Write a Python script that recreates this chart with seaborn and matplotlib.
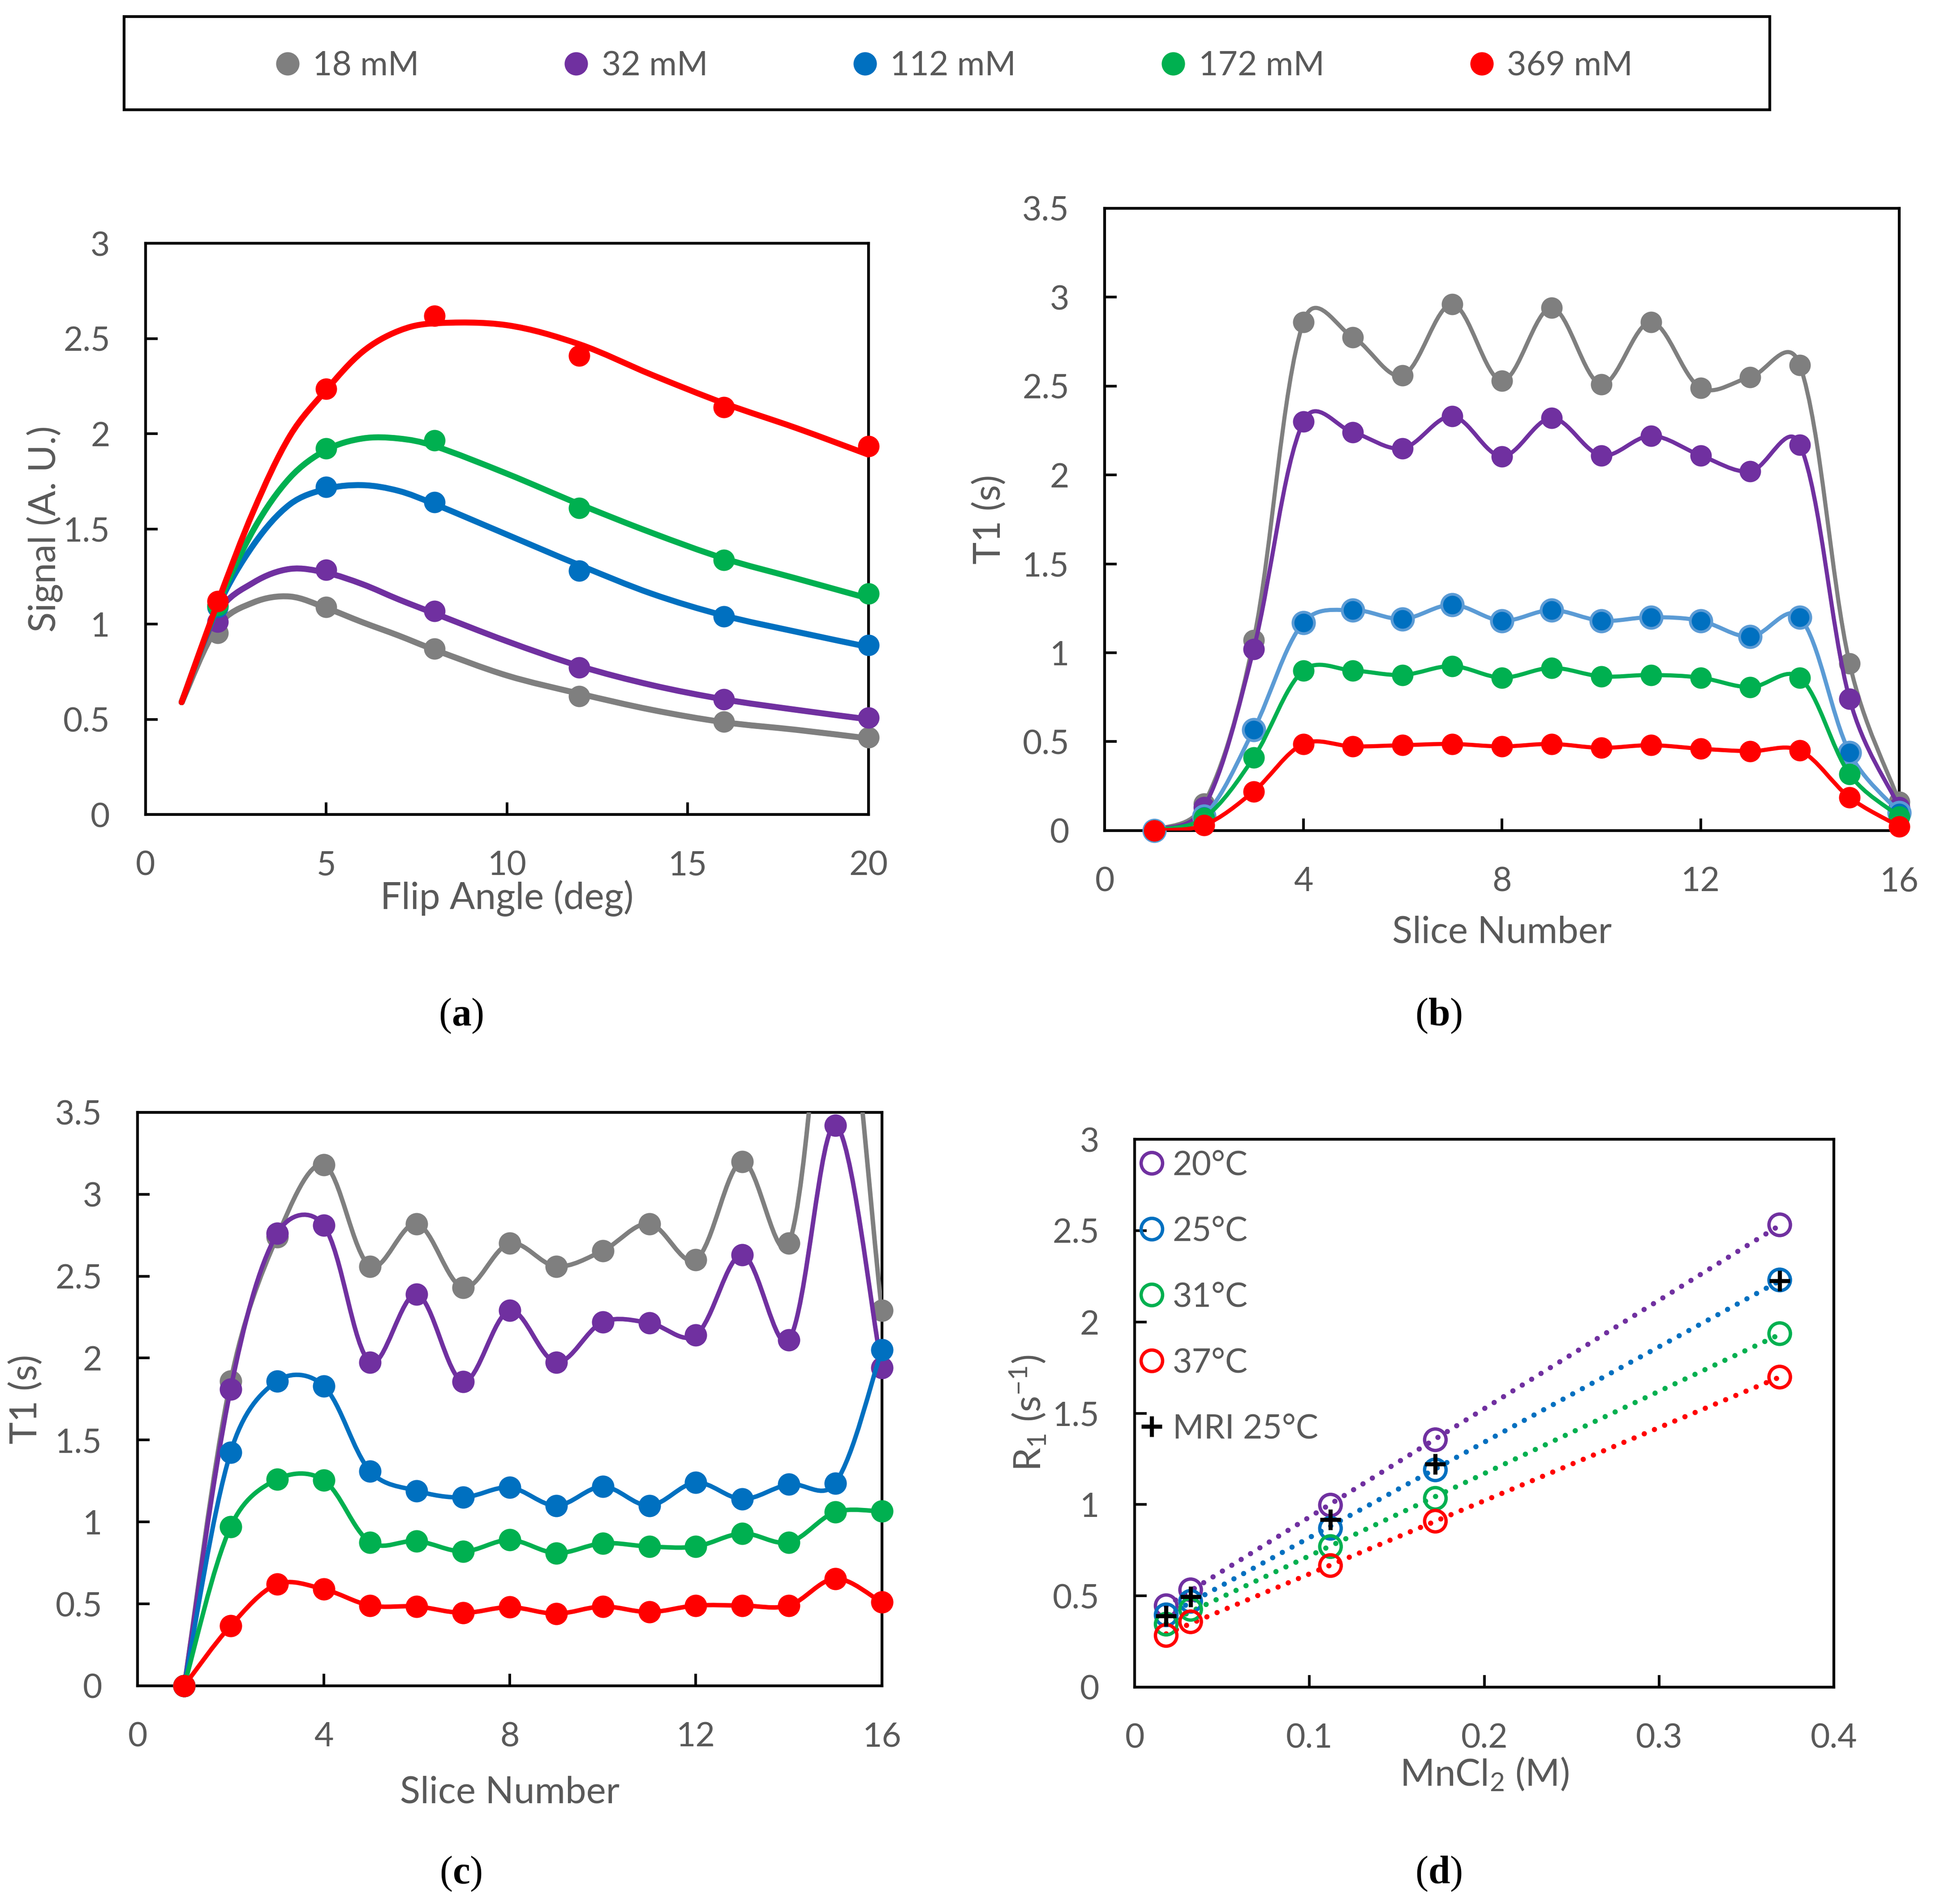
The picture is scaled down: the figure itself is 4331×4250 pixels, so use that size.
import numpy as np
import matplotlib
matplotlib.use('Agg')
import matplotlib.pyplot as plt
import seaborn as sns
from matplotlib.path import Path
from matplotlib.patches import PathPatch, Rectangle
from matplotlib.lines import Line2D
from matplotlib.ticker import FuncFormatter

# ---- shared series info
conc_labels = ['18 mM', '32 mM', '112 mM', '172 mM', '369 mM']
conc_colors = ['#7F7F7F', '#7030A0', '#0070C0', '#00B050', '#FF0000']

# ---- (a) signal vs flip angle: measured points and fitted curves
flip_angle = [2, 5, 8, 12, 16, 20]
sig_18 = [0.954, 1.089, 0.872, 0.622, 0.487, 0.406]
sig_32 = [1.013, 1.286, 1.069, 0.773, 0.605, 0.508]
sig_112 = [1.09, 1.72, 1.64, 1.28, 1.04, 0.89]
sig_172 = [1.10, 1.923, 1.964, 1.61, 1.337, 1.16]
sig_369 = [1.12, 2.235, 2.62, 2.41, 2.14, 1.934]

fit_angle = [1, 2, 3, 4, 5, 6, 7, 8, 10, 12, 14, 16, 18, 20]
fit_18 = [0.59, 0.99, 1.115, 1.145, 1.085, 1.01, 0.94, 0.865, 0.73, 0.635, 0.55, 0.485, 0.445, 0.40]
fit_32 = [0.59, 1.06, 1.22, 1.29, 1.27, 1.21, 1.13, 1.056, 0.91, 0.78, 0.68, 0.605, 0.55, 0.50]
fit_112 = [0.59, 1.09, 1.42, 1.63, 1.71, 1.73, 1.70, 1.63, 1.47, 1.31, 1.16, 1.045, 0.96, 0.88]
fit_172 = [0.59, 1.10, 1.50, 1.77, 1.915, 1.975, 1.975, 1.935, 1.79, 1.63, 1.48, 1.345, 1.24, 1.135]
fit_369 = [0.59, 1.115, 1.60, 1.99, 2.23, 2.43, 2.54, 2.58, 2.57, 2.47, 2.31, 2.16, 2.03, 1.89]

# ---- (b) and (c) T1 per slice
slices = list(range(1, 17))
t1b_18 = [0.0, 0.15, 1.07, 2.86, 2.775, 2.56, 2.96, 2.53, 2.94, 2.51, 2.86, 2.49, 2.55, 2.617, 0.94, 0.16]
t1b_32 = [0.0, 0.13, 1.02, 2.30, 2.24, 2.15, 2.33, 2.105, 2.32, 2.11, 2.22, 2.11, 2.02, 2.17, 0.74, 0.13]
t1b_112 = [0.0, 0.08, 0.566, 1.17, 1.24, 1.19, 1.27, 1.18, 1.24, 1.18, 1.20, 1.18, 1.09, 1.20, 0.438, 0.10]
t1b_172 = [0.0, 0.07, 0.41, 0.90, 0.90, 0.875, 0.925, 0.86, 0.915, 0.867, 0.875, 0.86, 0.806, 0.86, 0.317, 0.078]
t1b_369 = [0.0, 0.03, 0.22, 0.487, 0.473, 0.48, 0.487, 0.473, 0.487, 0.465, 0.48, 0.46, 0.446, 0.45, 0.186, 0.023]

t1c_18 = [0.0, 1.86, 2.74, 3.18, 2.56, 2.82, 2.43, 2.70, 2.56, 2.655, 2.82, 2.60, 3.20, 2.70, 4.6, 2.29]
t1c_32 = [0.0, 1.81, 2.76, 2.81, 1.975, 2.39, 1.857, 2.29, 1.975, 2.22, 2.215, 2.14, 2.63, 2.11, 3.42, 1.94]
t1c_112 = [0.0, 1.425, 1.86, 1.83, 1.31, 1.19, 1.15, 1.21, 1.10, 1.216, 1.10, 1.24, 1.14, 1.23, 1.237, 2.05]
t1c_172 = [0.0, 0.97, 1.26, 1.255, 0.876, 0.884, 0.82, 0.89, 0.81, 0.87, 0.85, 0.85, 0.93, 0.876, 1.06, 1.065]
t1c_369 = [0.0, 0.366, 0.62, 0.59, 0.49, 0.484, 0.445, 0.48, 0.44, 0.484, 0.45, 0.49, 0.49, 0.49, 0.654, 0.51]

# ---- (d) relaxation rate vs MnCl2
mncl2 = [0.018, 0.032, 0.112, 0.172, 0.369]
r1_20 = [0.446, 0.533, 0.997, 1.355, 2.532]
r1_25 = [0.396, 0.47, 0.87, 1.19, 2.23]
r1_31 = [0.345, 0.426, 0.77, 1.034, 1.936]
r1_37 = [0.283, 0.358, 0.666, 0.909, 1.698]
r1_mri = [0.39, 0.496, 0.917, 1.222, 2.226]
temp_labels = ['20°C', '25°C', '31°C', '37°C']
temp_colors = ['#7030A0', '#0070C0', '#00B050', '#FF0000']

TXT = '#595959'

sns.set_theme(style='white')
plt.rcParams['font.family'] = ['Lato', 'DejaVu Sans']
plt.rcParams['mathtext.fontset'] = 'custom'
plt.rcParams['mathtext.rm'] = 'Lato'
plt.rcParams['mathtext.it'] = 'Lato:italic'
plt.rcParams['mathtext.bf'] = 'Liberation Serif:bold'


def smooth_path(ax, x, y, mix=0.6):
    # excel-like smoothed line: bezier tangents part uniform, part weighted
    # by on-screen segment lengths
    p = np.column_stack([x, y]).astype(float)
    scr = ax.transData.transform(p)
    n = len(p)
    d = np.r_[0.0, np.hypot(*np.diff(scr, axis=0).T), 0.0]
    verts, codes = [p[0]], [Path.MOVETO]
    for i in range(n - 1):
        p0, p1, p2, p3 = p[max(i - 1, 0)], p[i], p[i + 1], p[min(i + 2, n - 1)]
        d01, d12, d23 = d[i], d[i + 1], d[i + 2]
        w1 = mix / 6.0 + (1 - mix) * d12 / (d01 + d12) / 3.0
        w2 = mix / 6.0 + (1 - mix) * d12 / (d12 + d23) / 3.0
        verts += [p1 + (p2 - p0) * w1, p2 - (p3 - p1) * w2, p2]
        codes += [Path.CURVE4] * 3
    return Path(verts, codes)


def add_smooth(ax, x, y, color, lw, z):
    ax.add_patch(PathPatch(smooth_path(ax, x, y), fill=False, edgecolor=color, lw=lw,
                           zorder=z, capstyle='round', joinstyle='round'))


def add_points(ax, x, y, color, size, z, edge=None, ew=0.0):
    sns.scatterplot(x=x, y=y, ax=ax, color=color, s=size ** 2, marker='o',
                    edgecolor=edge if edge else color, linewidth=ew,
                    zorder=z, legend=False)
    ax.collections[-1].set_clip_path(
        Rectangle((-0.06, -0.06), 1.12, 1.1, transform=ax.transAxes))


def style_axes(ax, xlim, xticks, ylim, yticks, xlabel, ylabel, xl_pos, yl_pos):
    ax.set_xlim(*xlim)
    ax.set_ylim(*ylim)
    ax.set_xticks(xticks)
    ax.set_yticks(yticks)
    fmt = FuncFormatter(lambda v, p: f'{v:g}')
    ax.xaxis.set_major_formatter(fmt)
    ax.yaxis.set_major_formatter(fmt)
    ax.tick_params(direction='in', length=6.4, width=1.4, color='black',
                   labelcolor=TXT, labelsize=18, pad=19, bottom=True, left=True)
    for s in ax.spines.values():
        s.set_color('black')
        s.set_linewidth(1.5)
        s.set_zorder(1)
    ax.set_xlabel(xlabel, fontsize=20, color=TXT)
    ax.set_ylabel(ylabel, fontsize=20, color=TXT)
    ax.xaxis.set_label_coords(0.5, xl_pos)
    ax.yaxis.set_label_coords(yl_pos, 0.5)
    ax.xaxis.label.set_va('center')
    ax.yaxis.label.set_va('center')
    ax.grid(False)


fig = plt.figure(figsize=(4331 / 300, 4250 / 300), dpi=300)
ax_a = fig.add_axes([0.0750, 0.5722, 0.3727, 0.3000])
ax_b = fig.add_axes([0.5694, 0.5638, 0.4096, 0.3268])
ax_c = fig.add_axes([0.0709, 0.1146, 0.3837, 0.3012])
ax_d = fig.add_axes([0.5849, 0.1139, 0.3604, 0.2877])

style_axes(ax_a, (0, 20), [0, 5, 10, 15, 20], (0, 3), np.arange(0, 3.01, 0.5),
           'Flip Angle (deg)', 'Signal (A. U.)', -0.147, -0.139)
style_axes(ax_b, (0, 16), [0, 4, 8, 12, 16], (0, 3.5), np.arange(0, 3.51, 0.5),
           'Slice Number', 'T1 (s)', -0.164, -0.144)
style_axes(ax_c, (0, 16), [0, 4, 8, 12, 16], (0, 3.5), np.arange(0, 3.51, 0.5),
           'Slice Number', 'T1 (s)', -0.186, -0.149)

# (a)
a_points = [sig_18, sig_32, sig_112, sig_172, sig_369]
a_fits = [fit_18, fit_32, fit_112, fit_172, fit_369]
for i, (pts, fit, col) in enumerate(zip(a_points, a_fits, conc_colors)):
    add_smooth(ax_a, fit_angle, fit, col, 3.2, 2 + 2 * i)
    add_points(ax_a, flip_angle, pts, col, 11.5, 3 + 2 * i)

# (b)
b_series = [t1b_18, t1b_32, t1b_112, t1b_172, t1b_369]
for i, (vals, col) in enumerate(zip(b_series, conc_colors)):
    line_col = '#5B9BD5' if col == '#0070C0' else col
    add_smooth(ax_b, slices, vals, line_col, 2.2, 2 + 2 * i)
    if col == '#0070C0':
        add_points(ax_b, slices, vals, col, 11.5, 3 + 2 * i, edge='#5B9BD5', ew=1.5)
    else:
        add_points(ax_b, slices, vals, col, 11.5, 3 + 2 * i)

# (c)
c_series = [t1c_18, t1c_32, t1c_112, t1c_172, t1c_369]
for i, (vals, col) in enumerate(zip(c_series, conc_colors)):
    add_smooth(ax_c, slices, vals, col, 2.4, 2 + 2 * i)
    add_points(ax_c, slices, vals, col, 12, 3 + 2 * i)

# (d)
d_series = [r1_20, r1_25, r1_31, r1_37]
for i, (vals, col) in enumerate(zip(d_series, temp_colors)):
    sns.regplot(x=np.array(mncl2), y=np.array(vals), ax=ax_d, scatter=False,
                ci=None, truncate=True,
                line_kws=dict(color=col, lw=2.8, ls=(0, (0.01, 2.1)),
                              dash_capstyle='round', zorder=2))
    sns.scatterplot(x=mncl2, y=vals, ax=ax_d, marker='o', s=11.5 ** 2,
                    color=col, facecolor='none', edgecolor=col, linewidth=1.8,
                    zorder=4, legend=False)
    ax_d.collections[-1].set_clip_on(False)
sns.scatterplot(x=mncl2, y=r1_mri, ax=ax_d, marker='+', s=11 ** 2, color='black',
                linewidth=2.2, zorder=5, legend=False)
ax_d.collections[-1].set_clip_on(False)
style_axes(ax_d, (0, 0.4), [0, 0.1, 0.2, 0.3, 0.4], (0, 3), np.arange(0, 3.01, 0.5),
           r'MnCl$_2$ (M)', r'R$_1$ (s$^{-1}$)', -0.159, -0.153)

d_handles = [Line2D([], [], ls='none', marker='o', ms=11.5, mfc='none', mec=c, mew=1.8)
             for c in temp_colors]
d_handles.append(Line2D([], [], ls='none', marker='+', ms=11, mec='black', mew=2.2))
ax_d.legend(d_handles, temp_labels + ['MRI 25°C'], loc='upper left',
            bbox_to_anchor=(0, 0.99), borderaxespad=0, borderpad=0.15,
            handlelength=0.7, handletextpad=0.28, labelspacing=1.04,
            frameon=False, fontsize=18, labelcolor=TXT)

# shared legend on top inside a box
fig.add_artist(Rectangle((0.0640, 0.9424), 0.8483, 0.0488, transform=fig.transFigure,
                         fill=False, edgecolor='black', lw=1.5))
top_handles = [Line2D([], [], ls='none', marker='o', ms=11.5, mfc=c, mec=c)
               for c in conc_colors]
fig.legend(top_handles, conc_labels, loc='center', bbox_to_anchor=(0.4914, 0.9655),
           ncol=5, frameon=False, fontsize=18, labelcolor=TXT, columnspacing=4.28,
           handlelength=0.8, handletextpad=0.35)

# panel letters
for lbl, (px, py) in zip('abcd', [(0.2376, 0.4664), (0.7416, 0.4664),
                                  (0.2376, 0.0158), (0.7416, 0.0158)]):
    fig.text(px, py, rf'($\mathbf{{{lbl}}}$)', ha='center', va='center',
             fontsize=21, family='Liberation Serif', color='black')

fig.savefig('out.png', dpi=300)
